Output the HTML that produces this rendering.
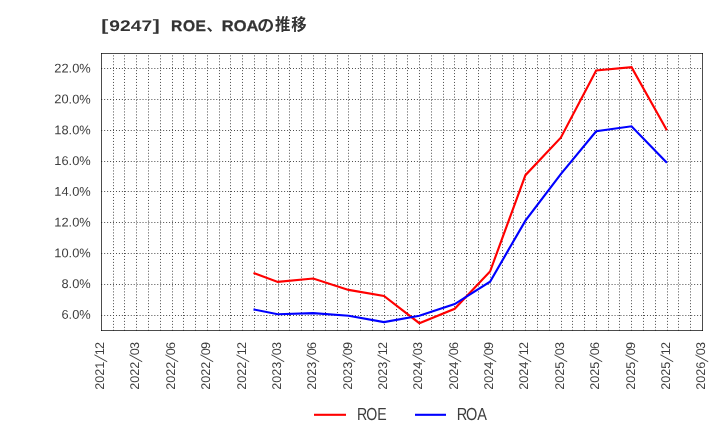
<!DOCTYPE html>
<html><head><meta charset="utf-8"><title>[9247] ROE、ROAの推移</title>
<style>html,body{margin:0;padding:0;background:#fff;}body{width:720px;height:440px;overflow:hidden;font-family:"Liberation Sans",sans-serif;}svg{display:block;}text{font-family:"Liberation Sans",sans-serif;}</style>
</head><body>
<svg width="720" height="440" viewBox="0 0 720 440" style="will-change:transform" role="img" aria-label="[9247] ROE、ROAの推移">
<rect x="0" y="0" width="720" height="440" fill="#fff"/>
<g stroke="#484848" stroke-width="1" stroke-dasharray="0.98 1.97" fill="none">
<line x1="113.5" y1="55.4" x2="113.5" y2="330.5"/>
<line x1="124.5" y1="55.4" x2="124.5" y2="330.5"/>
<line x1="136.5" y1="55.4" x2="136.5" y2="330.5"/>
<line x1="148.5" y1="55.4" x2="148.5" y2="330.5"/>
<line x1="160.5" y1="55.4" x2="160.5" y2="330.5"/>
<line x1="172.5" y1="55.4" x2="172.5" y2="330.5"/>
<line x1="183.5" y1="55.4" x2="183.5" y2="330.5"/>
<line x1="195.5" y1="55.4" x2="195.5" y2="330.5"/>
<line x1="207.5" y1="55.4" x2="207.5" y2="330.5"/>
<line x1="219.5" y1="55.4" x2="219.5" y2="330.5"/>
<line x1="230.5" y1="55.4" x2="230.5" y2="330.5"/>
<line x1="242.5" y1="55.4" x2="242.5" y2="330.5"/>
<line x1="254.5" y1="55.4" x2="254.5" y2="330.5"/>
<line x1="266.5" y1="55.4" x2="266.5" y2="330.5"/>
<line x1="278.5" y1="55.4" x2="278.5" y2="330.5"/>
<line x1="289.5" y1="55.4" x2="289.5" y2="330.5"/>
<line x1="301.5" y1="55.4" x2="301.5" y2="330.5"/>
<line x1="313.5" y1="55.4" x2="313.5" y2="330.5"/>
<line x1="325.5" y1="55.4" x2="325.5" y2="330.5"/>
<line x1="337.5" y1="55.4" x2="337.5" y2="330.5"/>
<line x1="348.5" y1="55.4" x2="348.5" y2="330.5"/>
<line x1="360.5" y1="55.4" x2="360.5" y2="330.5"/>
<line x1="372.5" y1="55.4" x2="372.5" y2="330.5"/>
<line x1="384.5" y1="55.4" x2="384.5" y2="330.5"/>
<line x1="396.5" y1="55.4" x2="396.5" y2="330.5"/>
<line x1="407.5" y1="55.4" x2="407.5" y2="330.5"/>
<line x1="419.5" y1="55.4" x2="419.5" y2="330.5"/>
<line x1="431.5" y1="55.4" x2="431.5" y2="330.5"/>
<line x1="443.5" y1="55.4" x2="443.5" y2="330.5"/>
<line x1="454.5" y1="55.4" x2="454.5" y2="330.5"/>
<line x1="466.5" y1="55.4" x2="466.5" y2="330.5"/>
<line x1="478.5" y1="55.4" x2="478.5" y2="330.5"/>
<line x1="490.5" y1="55.4" x2="490.5" y2="330.5"/>
<line x1="502.5" y1="55.4" x2="502.5" y2="330.5"/>
<line x1="513.5" y1="55.4" x2="513.5" y2="330.5"/>
<line x1="525.5" y1="55.4" x2="525.5" y2="330.5"/>
<line x1="537.5" y1="55.4" x2="537.5" y2="330.5"/>
<line x1="549.5" y1="55.4" x2="549.5" y2="330.5"/>
<line x1="561.5" y1="55.4" x2="561.5" y2="330.5"/>
<line x1="572.5" y1="55.4" x2="572.5" y2="330.5"/>
<line x1="584.5" y1="55.4" x2="584.5" y2="330.5"/>
<line x1="596.5" y1="55.4" x2="596.5" y2="330.5"/>
<line x1="608.5" y1="55.4" x2="608.5" y2="330.5"/>
<line x1="619.5" y1="55.4" x2="619.5" y2="330.5"/>
<line x1="631.5" y1="55.4" x2="631.5" y2="330.5"/>
<line x1="643.5" y1="55.4" x2="643.5" y2="330.5"/>
<line x1="655.5" y1="55.4" x2="655.5" y2="330.5"/>
<line x1="667.5" y1="55.4" x2="667.5" y2="330.5"/>
<line x1="678.5" y1="55.4" x2="678.5" y2="330.5"/>
<line x1="690.5" y1="55.4" x2="690.5" y2="330.5"/>
<line x1="101.25" y1="315.5" x2="702.5" y2="315.5"/>
<line x1="101.25" y1="284.5" x2="702.5" y2="284.5"/>
<line x1="101.25" y1="253.5" x2="702.5" y2="253.5"/>
<line x1="101.25" y1="222.5" x2="702.5" y2="222.5"/>
<line x1="101.25" y1="191.5" x2="702.5" y2="191.5"/>
<line x1="101.25" y1="161.5" x2="702.5" y2="161.5"/>
<line x1="101.25" y1="130.5" x2="702.5" y2="130.5"/>
<line x1="101.25" y1="99.5" x2="702.5" y2="99.5"/>
<line x1="101.25" y1="68.5" x2="702.5" y2="68.5"/>
</g>
<g stroke="#000" stroke-opacity="0.7" stroke-width="1">
<line x1="101.0" y1="53.5" x2="703.0" y2="53.5"/><line x1="101.0" y1="330.5" x2="703.0" y2="330.5"/><line x1="101.5" y1="53.0" x2="101.5" y2="331.0"/><line x1="702.5" y1="53.0" x2="702.5" y2="331.0"/>
</g>
<polyline points="253.5,272.9 277.8,281.9 313.24,278.5 348.6,289.9 383.97,295.9 419.33,323.2 454.7,308.85 490.06,271.5 525.43,175.2 560.79,137.7 596.16,70.4 631.52,67.1 666.89,130.2" fill="none" stroke="#ff0000" stroke-width="2.15" stroke-linejoin="miter" stroke-linecap="butt"/>
<polyline points="253.5,309.4 277.8,314.2 313.24,313.1 348.6,315.75 383.97,322.1 419.33,315.7 454.7,304.1 490.06,281.7 525.43,220.6 560.79,174.1 596.16,131.2 631.52,126.3 666.89,162.8" fill="none" stroke="#0000ff" stroke-width="2.15" stroke-linejoin="miter" stroke-linecap="butt"/>
<g font-size="12.6" fill="#3e3e3e">
<text transform="translate(61.46,318.81) rotate(0.03) scale(1.0200,1)">6.0%</text>
<text transform="translate(61.46,288.03) rotate(0.03) scale(1.0200,1)">8.0%</text>
<text transform="translate(54.31,257.26) rotate(0.03) scale(1.0200,1)">10.0%</text>
<text transform="translate(54.31,226.48) rotate(0.03) scale(1.0200,1)">12.0%</text>
<text transform="translate(54.31,195.70) rotate(0.03) scale(1.0200,1)">14.0%</text>
<text transform="translate(54.31,164.92) rotate(0.03) scale(1.0200,1)">16.0%</text>
<text transform="translate(54.31,134.14) rotate(0.03) scale(1.0200,1)">18.0%</text>
<text transform="translate(54.31,103.37) rotate(0.03) scale(1.0200,1)">20.0%</text>
<text transform="translate(54.31,72.59) rotate(0.03) scale(1.0200,1)">22.0%</text>
</g>
<g font-size="12.6" fill="#3e3e3e">
<g transform="translate(104.10,389.8) rotate(-89.97)">
<text x="0 7 14 21">2021</text><text transform="translate(27.5,2.45) skewX(-19.8) scale(1,1.376)">/</text><text x="34.6 40.9">12</text>
</g>
<g transform="translate(139.10,389.8) rotate(-89.97)">
<text x="0 7 14 21">2022</text><text transform="translate(27.5,2.45) skewX(-19.8) scale(1,1.376)">/</text><text x="34.6 40.9">03</text>
</g>
<g transform="translate(175.10,389.8) rotate(-89.97)">
<text x="0 7 14 21">2022</text><text transform="translate(27.5,2.45) skewX(-19.8) scale(1,1.376)">/</text><text x="34.6 40.9">06</text>
</g>
<g transform="translate(210.10,389.8) rotate(-89.97)">
<text x="0 7 14 21">2022</text><text transform="translate(27.5,2.45) skewX(-19.8) scale(1,1.376)">/</text><text x="34.6 40.9">09</text>
</g>
<g transform="translate(246.10,389.8) rotate(-89.97)">
<text x="0 7 14 21">2022</text><text transform="translate(27.5,2.45) skewX(-19.8) scale(1,1.376)">/</text><text x="34.6 40.9">12</text>
</g>
<g transform="translate(281.10,389.8) rotate(-89.97)">
<text x="0 7 14 21">2023</text><text transform="translate(27.5,2.45) skewX(-19.8) scale(1,1.376)">/</text><text x="34.6 40.9">03</text>
</g>
<g transform="translate(316.10,389.8) rotate(-89.97)">
<text x="0 7 14 21">2023</text><text transform="translate(27.5,2.45) skewX(-19.8) scale(1,1.376)">/</text><text x="34.6 40.9">06</text>
</g>
<g transform="translate(352.10,389.8) rotate(-89.97)">
<text x="0 7 14 21">2023</text><text transform="translate(27.5,2.45) skewX(-19.8) scale(1,1.376)">/</text><text x="34.6 40.9">09</text>
</g>
<g transform="translate(387.10,389.8) rotate(-89.97)">
<text x="0 7 14 21">2023</text><text transform="translate(27.5,2.45) skewX(-19.8) scale(1,1.376)">/</text><text x="34.6 40.9">12</text>
</g>
<g transform="translate(422.10,389.8) rotate(-89.97)">
<text x="0 7 14 21">2024</text><text transform="translate(27.5,2.45) skewX(-19.8) scale(1,1.376)">/</text><text x="34.6 40.9">03</text>
</g>
<g transform="translate(458.10,389.8) rotate(-89.97)">
<text x="0 7 14 21">2024</text><text transform="translate(27.5,2.45) skewX(-19.8) scale(1,1.376)">/</text><text x="34.6 40.9">06</text>
</g>
<g transform="translate(493.10,389.8) rotate(-89.97)">
<text x="0 7 14 21">2024</text><text transform="translate(27.5,2.45) skewX(-19.8) scale(1,1.376)">/</text><text x="34.6 40.9">09</text>
</g>
<g transform="translate(528.10,389.8) rotate(-89.97)">
<text x="0 7 14 21">2024</text><text transform="translate(27.5,2.45) skewX(-19.8) scale(1,1.376)">/</text><text x="34.6 40.9">12</text>
</g>
<g transform="translate(564.10,389.8) rotate(-89.97)">
<text x="0 7 14 21">2025</text><text transform="translate(27.5,2.45) skewX(-19.8) scale(1,1.376)">/</text><text x="34.6 40.9">03</text>
</g>
<g transform="translate(599.10,389.8) rotate(-89.97)">
<text x="0 7 14 21">2025</text><text transform="translate(27.5,2.45) skewX(-19.8) scale(1,1.376)">/</text><text x="34.6 40.9">06</text>
</g>
<g transform="translate(635.10,389.8) rotate(-89.97)">
<text x="0 7 14 21">2025</text><text transform="translate(27.5,2.45) skewX(-19.8) scale(1,1.376)">/</text><text x="34.6 40.9">09</text>
</g>
<g transform="translate(670.10,389.8) rotate(-89.97)">
<text x="0 7 14 21">2025</text><text transform="translate(27.5,2.45) skewX(-19.8) scale(1,1.376)">/</text><text x="34.6 40.9">12</text>
</g>
<g transform="translate(705.10,389.8) rotate(-89.97)">
<text x="0 7 14 21">2026</text><text transform="translate(27.5,2.45) skewX(-19.8) scale(1,1.376)">/</text><text x="34.6 40.9">03</text>
</g>
</g>
<line x1="314" y1="414.8" x2="346" y2="414.8" stroke="#ff0000" stroke-width="2.1"/>
<line x1="415" y1="414.8" x2="446" y2="414.8" stroke="#0000ff" stroke-width="2.1"/>
<g font-size="17.4" fill="#3e3e3e">
<text transform="translate(358.15,420.20) rotate(0.03) scale(0.8123,1)" x="-1.42 9.89 23.43">ROE</text>
<text transform="translate(458.15,420.20) rotate(0.03) scale(0.8342,1)" x="-1.56 9.45 22.97">ROA</text>
</g>
<g font-size="15.4" font-weight="bold" fill="#333">
<text transform="translate(100.91,30.50) rotate(0.03) scale(1.6337,1)" font-weight="normal" stroke="#333" stroke-width="0.35">[</text>
<text transform="translate(109.33,31.00) rotate(0.03) scale(1.2497,1)">9247</text>
<text transform="translate(152.90,30.50) rotate(0.03) scale(1.6337,1)" font-weight="normal" stroke="#333" stroke-width="0.35">]</text>
<text transform="translate(172.05,31.00) rotate(0.03) scale(1.0115,1)" x="-0.95 10.83 23.27" stroke="#333" stroke-width="0.3">ROE</text>
<text transform="translate(223.15,31.00) rotate(0.03) scale(1.0695,1)" x="-1.22 9.87 21.75" stroke="#333" stroke-width="0.3">ROA</text>
</g>
<g font-size="15.4" font-weight="bold" fill="#333" style='font-family:"Liberation Sans","Noto Sans CJK JP",sans-serif'>
<text x="206.4" y="30.8" style='font-family:"Liberation Sans","Noto Sans CJK JP",sans-serif'>、</text>
<text x="257.2" y="30.5" textLength="17" lengthAdjust="spacingAndGlyphs" style='font-family:"Liberation Sans","Noto Sans CJK JP",sans-serif'>の</text>
<text x="275" y="30.3" style='font-family:"Liberation Sans","Noto Sans CJK JP",sans-serif'>推</text>
<text x="291.2" y="30.2" style='font-family:"Liberation Sans","Noto Sans CJK JP",sans-serif'>移</text>
</g>
</svg>
</body></html>
